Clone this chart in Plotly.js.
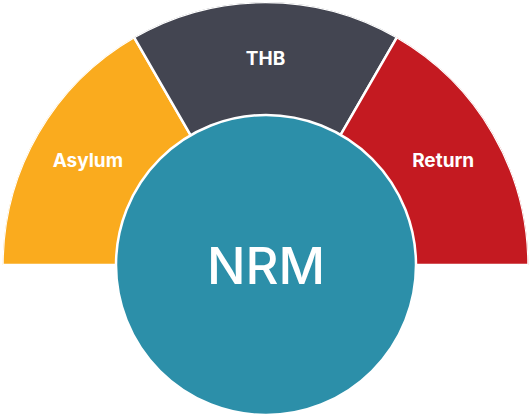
<!DOCTYPE html>
<html>
<head>
<meta charset="utf-8">
<script src="https://cdn.plot.ly/plotly-3.0.1.min.js"></script>
<style>html,body{margin:0;padding:0;background:#fff;}#chart{width:529px;height:418px;}</style>
</head>
<body>
<div id="chart"></div>
<script>
// Outer half-ring segments
var categories = ['Asylum', 'THB', 'Return'];
var segmentValues = [1, 1, 1];          // equal thirds of the half circle
var segmentColors = ['#FAAB1E', '#434551', '#C41A21'];
// Centre circle
var centreLabels = ['NRM'];
var centreValues = [1];
var centreColors = ['#2C8FA9'];

var n = categories.length;
var span = 180 / n;
var thetas = categories.map(function (c, i) { return 180 - span * (i + 0.5); });
var widths = categories.map(function () { return span; });

var data = [
  {
    type: 'barpolar',
    r: segmentValues,
    theta: thetas,
    width: widths,
    marker: { color: segmentColors, line: { color: '#ffffff', width: 2.5 } },
    hoverinfo: 'skip',
    showlegend: false
  },
  {
    type: 'scatterpolar',
    mode: 'text',
    r: segmentValues.map(function (v) { return v * 0.78; }),
    theta: thetas,
    text: categories,
    textfont: { family: 'Inter', size: 19, color: '#ffffff', weight: 700 },
    hoverinfo: 'skip',
    showlegend: false
  },
  {
    type: 'pie',
    labels: centreLabels,
    values: centreValues,
    marker: { colors: centreColors, line: { color: '#ffffff', width: 2.5 } },
    textinfo: 'label',
    textposition: 'inside',
    insidetextfont: { family: 'Inter', size: 51, color: '#ffffff', weight: 500 },
    sort: false,
    hoverinfo: 'skip',
    showlegend: false,
    domain: { x: [116 / 529, 416 / 529], y: [3 / 418, 303 / 418] }
  }
];

var layout = {
  width: 529,
  height: 418,
  margin: { l: 0, r: 0, t: 0, b: 0 },
  paper_bgcolor: '#ffffff',
  plot_bgcolor: '#ffffff',
  showlegend: false,
  polar: {
    domain: { x: [2 / 529, 1], y: [153 / 418, 416 / 418] },
    sector: [0, 180],
    hole: 0,
    bgcolor: 'rgba(0,0,0,0)',
    radialaxis: { visible: false, range: [0, 1], showgrid: false },
    angularaxis: { visible: false, showgrid: false, direction: 'counterclockwise', rotation: 0 }
  }
};

Plotly.newPlot('chart', data, layout, { displayModeBar: false, staticPlot: true });
</script>
</body>
</html>
